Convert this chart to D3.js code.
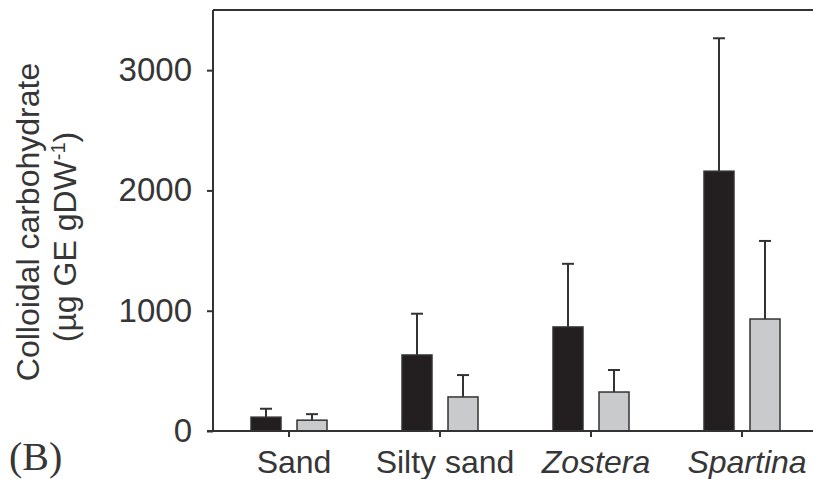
<!DOCTYPE html>
<html>
<head>
<meta charset="utf-8">
<title>Colloidal carbohydrate</title>
<script src="https://cdn.jsdelivr.net/npm/d3@7"></script>
<style>
    body { margin: 0; background: #fff; }
    text { font-family: "Liberation Sans", Arial, sans-serif; fill: #363636; }
    .domain, .tick line { stroke: #333; stroke-width: 2px; }
</style>
</head>
<body>
<script>
    var categories = ["Sand", "Silty sand", "Zostera", "Spartina"];
    var italicCats = ["Zostera", "Spartina"];
    var series = ["dark", "light"];
    var darkMeans = [115, 632, 865, 2160];
    var darkErr = [185, 975, 1390, 3265];
    var lightMeans = [90, 283, 324, 931];
    var lightErr = [140, 465, 507, 1580];
    var yTicks = [0, 1000, 2000, 3000];

    var width = 813, height = 479;
    var margin = {left: 213, top: 10, bottom: 48};

    var svg = d3.select("body").append("svg")
        .attr("width", width)
        .attr("height", height);

    var y = d3.scaleLinear()
        .domain([0, 3500])
        .range([height - margin.bottom, margin.top]);

    var x = d3.scaleBand()
        .domain(categories)
        .range([margin.left + 0.5, margin.left + 0.5 + 151 * 4]);

    // two bars per category, 30px wide with a 16px gap
    var xs = d3.scaleBand()
        .domain(series)
        .range([-38, 38])
        .paddingInner(0.348);

    var rows = categories.map(function (c, i) {
        return [
            {cat: c, s: "dark", v: darkMeans[i], e: darkErr[i]},
            {cat: c, s: "light", v: lightMeans[i], e: lightErr[i]}
        ];
    }).flat();

    var colour = {dark: "#231f20", light: "#c9cacc"};

    // top frame line
    svg.append("line")
        .attr("x1", margin.left).attr("x2", width)
        .attr("y1", y(3500)).attr("y2", y(3500))
        .attr("stroke", "#333").attr("stroke-width", 2);

    // error bars (upper only)
    var eb = svg.append("g").selectAll("g")
        .data(rows).enter().append("g")
        .attr("transform", function (d) {
            return "translate(" + (x(d.cat) + x.bandwidth() / 2 + xs(d.s) + xs.bandwidth() / 2) + ",0)";
        });
    eb.append("line")
        .attr("y1", function (d) { return y(d.v); })
        .attr("y2", function (d) { return y(d.e); })
        .attr("stroke", "#333").attr("stroke-width", 2);
    eb.append("line")
        .attr("x1", -6).attr("x2", 6)
        .attr("y1", function (d) { return y(d.e); })
        .attr("y2", function (d) { return y(d.e); })
        .attr("stroke", "#333").attr("stroke-width", 2);

    svg.append("g").selectAll("rect")
        .data(rows).enter().append("rect")
        .attr("x", function (d) { return x(d.cat) + x.bandwidth() / 2 + xs(d.s); })
        .attr("width", xs.bandwidth())
        .attr("y", function (d) { return y(d.v); })
        .attr("height", function (d) { return y(0) - y(d.v); })
        .attr("fill", function (d) { return colour[d.s]; })
        .attr("stroke", "#333")
        .attr("stroke-width", 1.5);

    // x axis
    var gx = svg.append("g")
        .attr("transform", "translate(0," + y(0) + ")")
        .call(d3.axisBottom(x).tickSize(6).tickSizeOuter(0));
    gx.select(".domain").attr("d", "M" + (margin.left - 6) + ",0H" + width);
    gx.selectAll("text")
        .attr("font-size", 32)
        .attr("x", 5)
        .attr("y", 42)
        .attr("dy", 0)
        .style("font-style", function (d) { return italicCats.indexOf(d) >= 0 ? "italic" : "normal"; });

    // y axis
    var gy = svg.append("g")
        .attr("transform", "translate(" + margin.left + ",0)")
        .call(d3.axisLeft(y).tickValues(yTicks).tickFormat(d3.format("d"))
            .tickSize(6).tickSizeOuter(0).tickPadding(15));
    gy.select(".domain").attr("d", "M0," + y(3500) + "V" + y(0));
    gy.selectAll("text").attr("font-size", 33);

    // y title
    svg.append("text")
        .attr("transform", "translate(39,222) rotate(-90)")
        .attr("text-anchor", "middle")
        .attr("font-size", 32)
        .text("Colloidal carbohydrate");
    var t2 = svg.append("text")
        .attr("transform", "translate(76,237) rotate(-90)")
        .attr("text-anchor", "middle")
        .attr("font-size", 32);
    t2.append("tspan").text("(µg GE gDW");
    t2.append("tspan").attr("font-size", 20).attr("dy", -11).text("-1");
    t2.append("tspan").attr("dy", 11).text(")");

    svg.append("text")
        .attr("x", 9).attr("y", 470)
        .attr("font-size", 40)
        .style("font-family", "'Liberation Serif', 'Times New Roman', serif")
        .text("(B)");
</script>
</body>
</html>
